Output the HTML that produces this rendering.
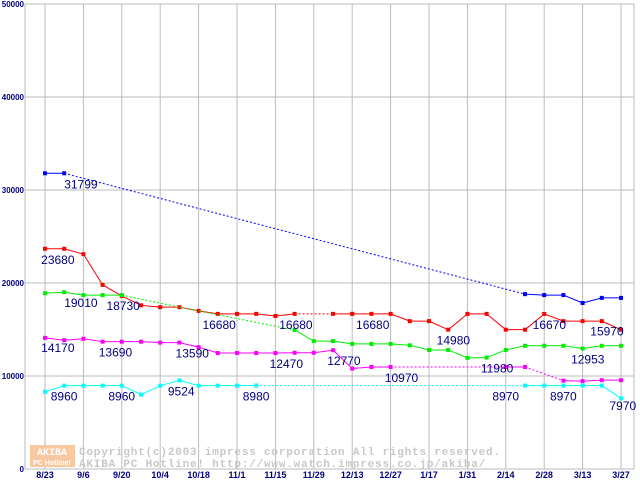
<!DOCTYPE html>
<html><head><meta charset="utf-8"><style>
body{margin:0;background:#fff;}
svg{display:block;font-family:"Liberation Sans",sans-serif;}
</style></head><body>
<svg id="chart" width="640" height="480" viewBox="0 0 640 480" xmlns="http://www.w3.org/2000/svg">
<g id="grid"></g>
<g id="watermark">
<rect x="30" y="445" width="45" height="22" fill="#f8c8a0"/>
<text x="52" y="455" font-size="10" font-weight="bold" fill="#fff" text-anchor="middle" font-family="Liberation Mono,monospace">AKIBA</text>
<text x="52" y="465" font-size="7" font-weight="bold" fill="#fff" text-anchor="middle">PC Hotline!</text>
<text x="79" y="455" font-size="11" font-weight="bold" fill="#c8c8c8" letter-spacing="0.8" font-family="Liberation Mono,monospace">Copyright(c)2003 impress corporation All rights reserved.</text>
<text x="79" y="467" font-size="11" font-weight="bold" fill="#c8c8c8" letter-spacing="0.8" font-family="Liberation Mono,monospace">AKIBA PC Hotline!  http://www.watch.impress.co.jp/akiba/</text>
</g>
<g id="series"></g>
<g id="labels"></g>
</svg>
<script>
const xLabels=["8/23","9/6","9/20","10/4","10/18","11/1","11/15","11/29","12/13","12/27","1/17","1/31","2/14","2/28","3/13","3/27"];
const yTicks=[0,10000,20000,30000,40000,50000];
const blue=[31799,31799,null,null,null,null,null,null,null,null,null,null,null,null,null,null,null,null,null,null,null,null,null,null,null,18800,18700,18700,17850,18400,18400];
const red=[23680,23680,23100,19800,18600,17600,17400,17400,17000,16680,16680,16680,16450,16680,null,16680,16680,16680,16680,15900,15900,14980,16680,16680,14980,14980,16670,15900,15900,15900,14980];
const green=[18900,19010,18700,18700,18700,null,null,17400,null,null,null,null,null,14950,13750,13750,13450,13450,13450,13300,12800,12800,11950,11980,12800,13250,13250,13250,12953,13250,13250];
const magenta=[14100,13850,14000,13690,13690,13690,13590,13590,13100,12470,12470,12470,12470,12500,12500,12770,10800,10970,10970,null,null,null,null,null,10970,10970,null,9500,9450,9550,9550];
const cyan=[8300,8960,8960,8960,8960,8000,8960,9524,8960,8960,8960,8980,null,null,null,null,null,null,null,null,null,null,null,null,null,8970,8970,8970,8970,8970,7600];
const labelVals=["31799","23680","19010","18730","16680","16680","16680","14980","16670","15970","14170","13690","13590","12470","12770","10970","11980","12953","8960","8960","9524","8980","8970","8970","7970"];
const labelIdx=[1,-0.2,1,3.2,8.2,12.2,16.2,20.4,25.4,28.4,-0.2,2.8,6.8,11.7,14.7,17.7,22.7,27.4,0.3,3.3,6.4,10.3,23.3,26.3,29.4];
const labelY=[31799,23680,19010,18730,16680,16680,16680,14980,16670,15970,14170,13690,13590,12470,12770,10970,11980,12953,8960,8960,9524,8980,8970,8970,7970];
const NS="http://www.w3.org/2000/svg";
const X0=45,STEP=19.2,Y0=469,PX=9.3/1000;
function xs(i){return X0+i*STEP;}
function ys(v){return Y0-v*PX;}
function mk(tag,attrs,parent){const e=document.createElementNS(NS,tag);for(const k in attrs)e.setAttribute(k,attrs[k]);parent.appendChild(e);return e;}
const grid=document.getElementById('grid');
yTicks.forEach(v=>{
 const l=mk('line',{x1:25,x2:634,y1:ys(v),y2:ys(v),stroke:'#bbb','stroke-width':1},grid);
 
 
 const t=mk('text',{x:24,y:ys(v)+3,'text-anchor':'end','font-size':8,'font-weight':'bold',fill:'#000080'},grid);
 t.textContent=v;
 
 
});
mk('line',{x1:25,x2:25,y1:4,y2:469,stroke:'#bbb'},grid);
mk('line',{x1:634,x2:634,y1:4,y2:469,stroke:'#bbb'},grid);
xLabels.forEach((s,i)=>{
 const x=xs(i*2);
 const l=mk('line',{x1:x,x2:x,y1:4,y2:469,stroke:'#bbb'},grid);
 
 
 const t=mk('text',{x:x,y:478,'text-anchor':'middle','font-size':9,'font-weight':'bold',fill:'#000080'},grid);
 t.textContent=s;
 
 
});
const sg=document.getElementById('series');
function draw(arr,color,name){
 const g=mk('g',{},sg);
 
 
 let prev=-1;
 for(let i=0;i<arr.length;i++){
  if(arr[i]==null)continue;
  if(prev>=0){
   const dotted=(i-prev)>1;
   const a={x1:xs(prev),y1:ys(arr[prev]),x2:xs(i),y2:ys(arr[i]),stroke:color,'stroke-width':1};
   if(dotted)a['stroke-dasharray']='2,2';
   mk('line',a,g);
  }
  prev=i;
 }
 for(let i=0;i<arr.length;i++){
  if(arr[i]==null)continue;
  if(arr[i+1]==null&&arr[i-1]==null)continue;
  const r=mk('rect',{x:xs(i)-2,y:ys(arr[i])-2,width:4,height:4,fill:color},g);
  
  
 }
}
draw(blue,'#0000ff','series-blue');
draw(red,'#ff0000','series-red');
draw(green,'#00ee00','series-green');
draw(magenta,'#ff00ff','series-magenta');
draw(cyan,'#00ffff','series-cyan');
const lg=document.getElementById('labels');
labelVals.forEach((s,i)=>{
 const t=mk('text',{x:xs(labelIdx[i]),y:ys(labelY[i])+15,'font-size':12,fill:'#000080'},lg);
 t.textContent=s;
 
 
});
</script>
</body></html>
